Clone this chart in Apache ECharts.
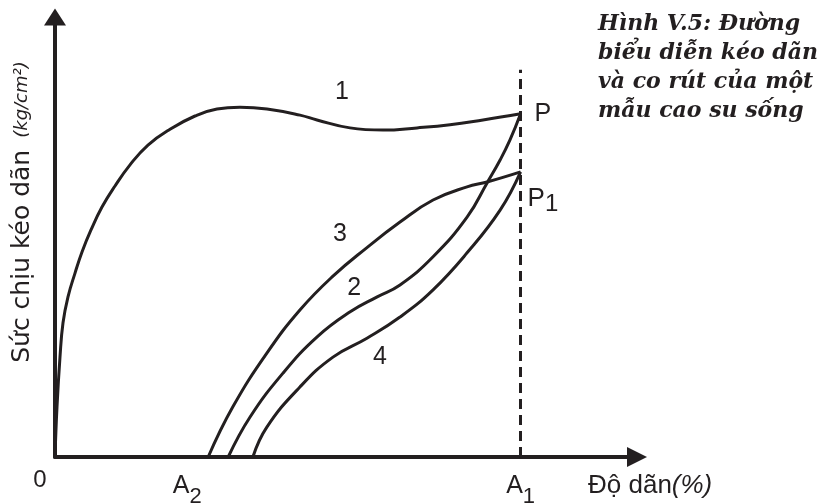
<!DOCTYPE html>
<html>
<head>
<meta charset="utf-8">
<title>Hình V.5</title>
<script src="https://cdn.jsdelivr.net/npm/echarts@6/dist/echarts.min.js"></script>
<style>
  html, body { margin: 0; padding: 0; background: #fff; }
  #main { width: 828px; height: 503px; }
</style>
</head>
<body>
<div id="main"></div>
<script>
// Đường 1: kéo dãn lần đầu, từ 0 đến P
const curve1X = [0, 0.43, 1.07, 1.72, 2.79, 4.3, 5.8, 7.73, 10.09, 12.89, 16.11, 19.97, 24.7, 30.07, 34.79, 39.73, 45.53, 52.62, 56.27, 63.36, 70.45, 77.75, 84.84, 91.92, 100];
const curve1Y = [0, 11.4, 22.7, 30.5, 36.4, 41.8, 46.6, 51.6, 56.8, 61.6, 66.4, 70.9, 74.5, 77.5, 79.1, 79.5, 79.1, 77.7, 76.6, 74.8, 74.3, 74.8, 75.5, 76.6, 78];
// Đường 2: co rút từ P về A2
const curve2X = [37.2, 41.9, 49.0, 56.3, 63.4, 69.2, 74.1, 81.2, 88.5, 92.8, 95.6, 97.7, 100];
const curve2Y = [0, 9.1, 19.1, 27.3, 33.0, 36.4, 39.1, 45.5, 54.5, 62.3, 67.5, 72.0, 78];
// Đường 3: kéo dãn lần hai, đến P1
const curve3X = [32.9, 38.2, 45.5, 52.6, 59.7, 67.0, 74.1, 81.2, 88.5, 92.8, 100];
const curve3Y = [0, 11.4, 23.6, 33.4, 41.1, 47.6, 53.4, 58.4, 61.4, 62.5, 64.8];
// Đường 4: co rút từ P1
const curve4X = [42.5, 45.5, 52.6, 59.7, 67.0, 74.1, 81.2, 88.5, 95.6, 100];
const curve4Y = [0, 6.8, 15.9, 22.7, 27.0, 31.8, 38.0, 46.4, 56.1, 64.8];

// nhãn trục hoành
const xTickValues = [0, 28.4, 100];
const xTickNames = ['0', 'A', 'A'];
const xTickSubs = ['', '2', '1'];
const A1 = 100;
const dashTop = 88;

const ink = '#231f20';
const sans = 'Liberation Sans, Arial, sans-serif';

const pairs = (xs, ys) => xs.map((x, i) => [x, ys[i]]);

// gắn số hiệu đường cong lên một điểm
const withLabel = (points, idx, text, offset) => points.map((p, i) => {
  if (i !== idx) return p;
  return {
    value: p,
    label: {
      show: true, formatter: text, position: 'inside', offset: offset,
      fontSize: 25, fontFamily: sans, color: ink
    }
  };
});

const lineBase = {
  type: 'line',
  smooth: 0.45,
  symbol: 'circle',
  symbolSize: 0,
  showSymbol: true,
  silent: true,
  lineStyle: { color: ink, width: 3 },
  itemStyle: { color: ink },
  emphasis: { disabled: true },
  label: { show: false }
};

const chart = echarts.init(document.getElementById('main'));

const option = {
  animation: false,
  backgroundColor: '#fff',
  title: {
    text: 'Hình V.5: Đường\nbiểu diễn kéo dãn\nvà co rút của một\nmẫu cao su sống',
    left: 598,
    top: 10,
    padding: 0,
    textStyle: {
      fontFamily: 'DejaVu Serif',
      fontStyle: 'italic',
      fontWeight: 'bold',
      fontSize: 22,
      lineHeight: 29,
      color: ink
    }
  },
  grid: { left: 55, right: 191, top: 17, bottom: 46, outerBoundsMode: 'none' },
  xAxis: {
    type: 'value',
    min: 0,
    max: 125,
    splitLine: { show: false },
    axisTick: { show: false },
    axisLine: {
      symbol: ['none', 'triangle'],
      symbolSize: [20, 20],
      lineStyle: { color: ink, width: 4 }
    },
    axisLabel: {
      customValues: xTickValues,
      margin: 11,
      formatter: (v) => {
        const i = xTickValues.indexOf(v);
        if (i < 0) return '';
        if (!xTickSubs[i]) return '{o|' + xTickNames[i] + '}';
        return '{a|' + xTickNames[i] + '}{s|' + xTickSubs[i] + '}';
      },
      rich: {
        o: { fontSize: 24, fontFamily: sans, color: ink, padding: [0, 30, 0, 0] },
        a: { fontSize: 25, fontFamily: sans, color: ink, padding: [6, 0, 10, 0] },
        s: { fontSize: 22, fontFamily: sans, color: ink, padding: [16, 0, 0, 0] }
      }
    },
    name: '{a|Độ dãn}{b|(%)}',
    nameLocation: 'end',
    nameGap: -49,
    nameTextStyle: {
      padding: [58, 0, 0, 0],
      rich: {
        a: { fontSize: 26, fontFamily: sans, color: ink },
        b: { fontSize: 26, fontFamily: sans, fontStyle: 'italic', color: ink }
      }
    }
  },
  yAxis: {
    type: 'value',
    min: 0,
    max: 100,
    splitLine: { show: false },
    axisTick: { show: false },
    axisLabel: { show: false },
    axisLine: {
      symbol: ['none', 'triangle'],
      symbolSize: [22, 17],
      lineStyle: { color: ink, width: 4 }
    },
    name: '{m|Sức chịu kéo dãn}{u|(kg/cm²)}',
    nameLocation: 'middle',
    nameRotate: 90,
    nameGap: 20,
    nameTextStyle: {
      rich: {
        m: { fontSize: 25, fontFamily: 'DejaVu Sans', color: ink, padding: [0, 0, 0, 50] },
        u: { fontSize: 18, fontFamily: 'DejaVu Sans', fontStyle: 'italic', color: ink, padding: [0, 0, 0, 12] }
      }
    }
  },
  series: [
    Object.assign({}, lineBase, {
      name: '1',
      data: withLabel(pairs(curve1X, curve1Y), 19, '1', [-8, -36]),
      endLabel: {
        show: true, formatter: 'P', distance: 14,
        fontSize: 25, fontFamily: sans, color: ink
      },
      markLine: {
        silent: true,
        symbol: ['none', 'none'],
        label: { show: false },
        lineStyle: { color: ink, width: 3, type: [10, 6] },
        data: [[{ coord: [A1, 0] }, { coord: [A1, dashTop] }]]
      }
    }),
    Object.assign({}, lineBase, {
      name: '2',
      data: withLabel(pairs(curve2X, curve2Y), 4, '2', [4, -24])
    }),
    Object.assign({}, lineBase, {
      name: '3',
      data: withLabel(pairs(curve3X, curve3Y), 4, '3', [7, -42]),
      endLabel: {
        show: true, formatter: '{p|P}{s|1}', distance: 7, offset: [0, 27],
        rich: {
          p: { fontSize: 26, fontFamily: sans, color: ink },
          s: { fontSize: 24, fontFamily: sans, color: ink, padding: [10, 0, 0, 0] }
        }
      }
    }),
    Object.assign({}, lineBase, {
      name: '4',
      data: withLabel(pairs(curve4X, curve4Y), 4, '4', [13, 19])
    })
  ]
};

chart.setOption(option);
</script>
</body>
</html>
